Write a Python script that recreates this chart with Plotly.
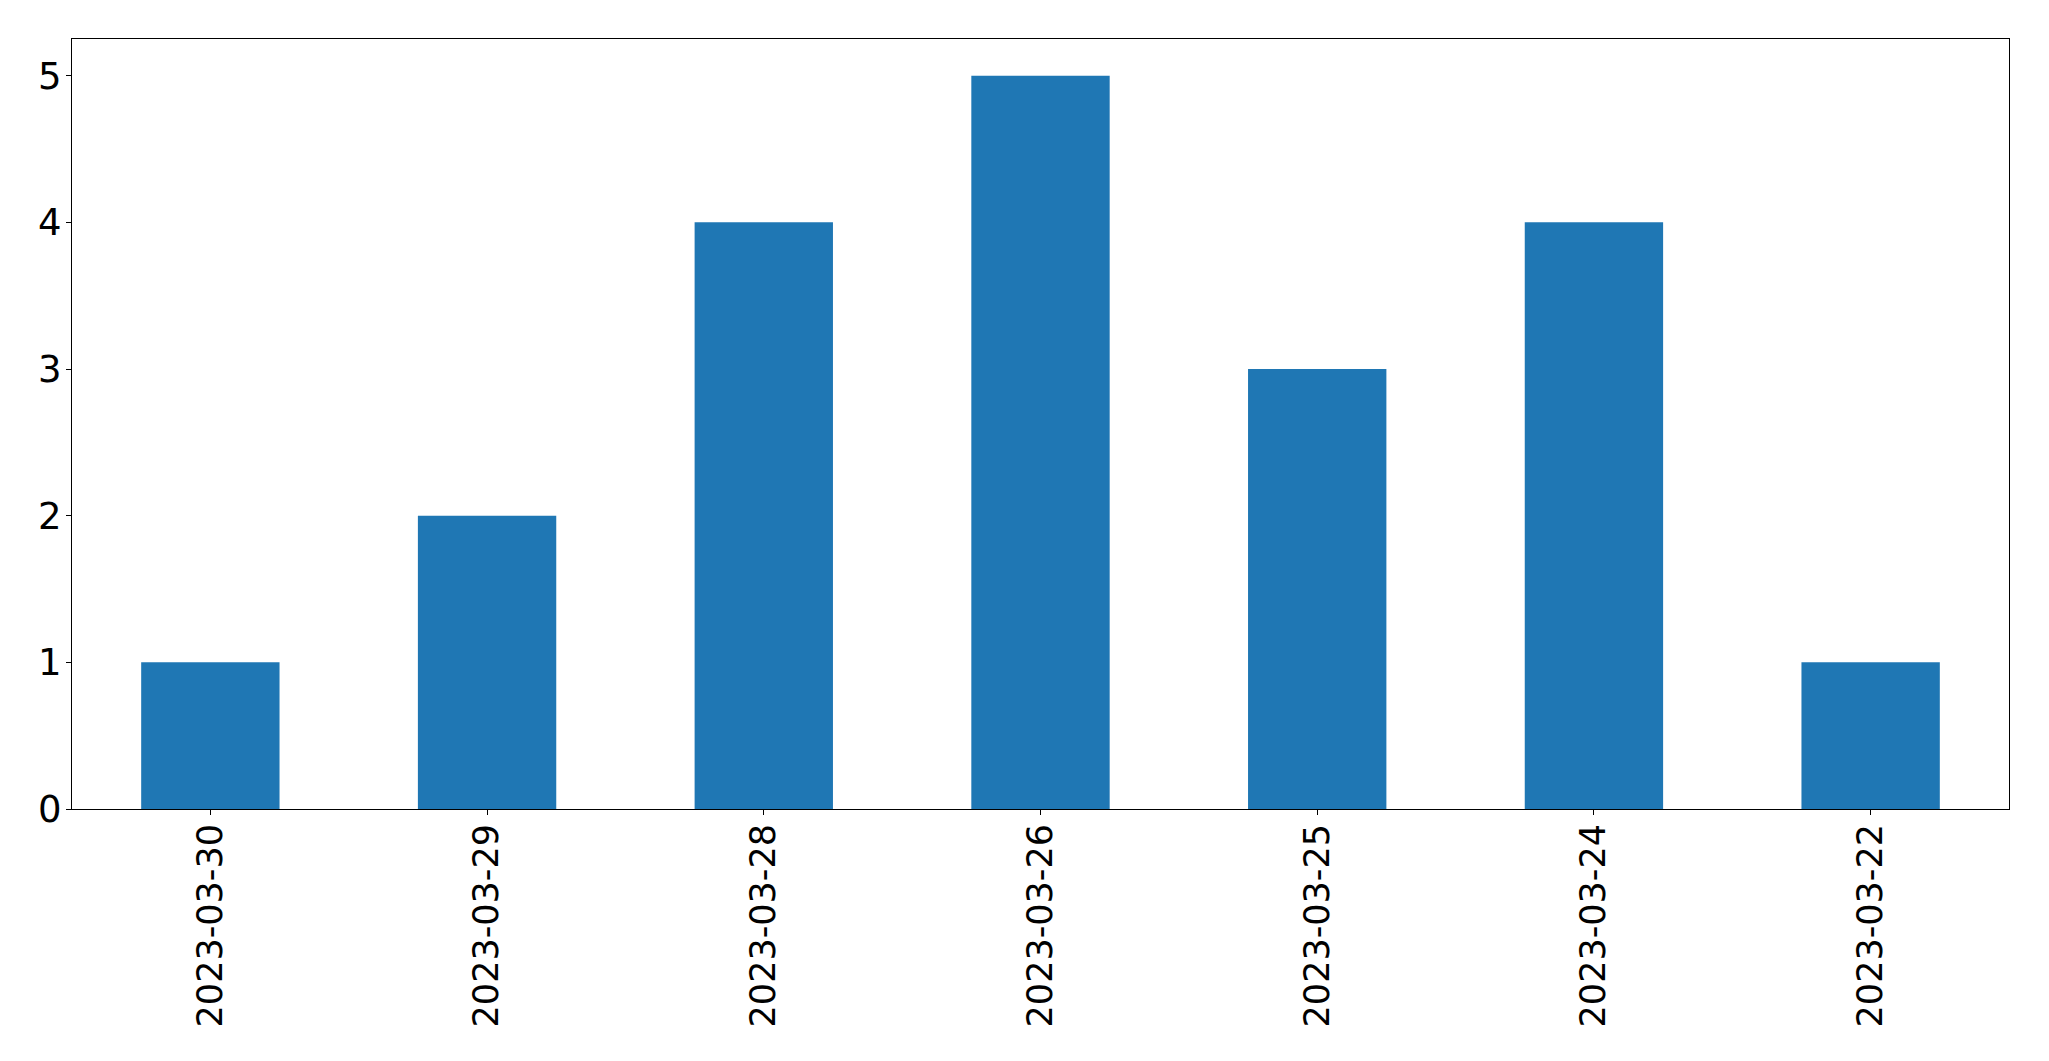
import plotly.graph_objects as go

dates = ["2023-03-30", "2023-03-29", "2023-03-28", "2023-03-26", "2023-03-25", "2023-03-24", "2023-03-22"]
counts = [1, 2, 4, 5, 3, 4, 1]
y_ticks = [0, 1, 2, 3, 4, 5]

fig = go.Figure(
    go.Bar(
        x=dates,
        y=counts,
        width=0.5,
        marker=dict(color="#1f77b4", line=dict(width=0)),
    )
)

fig.update_layout(
    width=2033,
    height=1045,
    margin=dict(l=64, r=32, t=31, b=244, pad=0),
    paper_bgcolor="white",
    plot_bgcolor="white",
    font=dict(family="DejaVu Sans", size=35, color="black"),
    showlegend=False,
)

fig.update_xaxes(
    type="category",
    range=[-0.5, 6.5],
    tickangle=-90,
    ticks="outside",
    ticklen=5,
    tickwidth=1,
    tickcolor="black",
    ticklabelstandoff=-5,
    showline=True,
    linecolor="black",
    linewidth=1,
    mirror=True,
    showgrid=False,
    zeroline=False,
)

fig.update_yaxes(
    range=[0, 5.25],
    tickvals=y_ticks,
    tickfont=dict(size=37),
    ticks="outside",
    ticklen=5,
    tickwidth=1,
    tickcolor="black",
    ticklabelstandoff=-3,
    showline=True,
    linecolor="black",
    linewidth=1,
    mirror=True,
    showgrid=False,
    zeroline=False,
)

fig.write_html("out.html")
